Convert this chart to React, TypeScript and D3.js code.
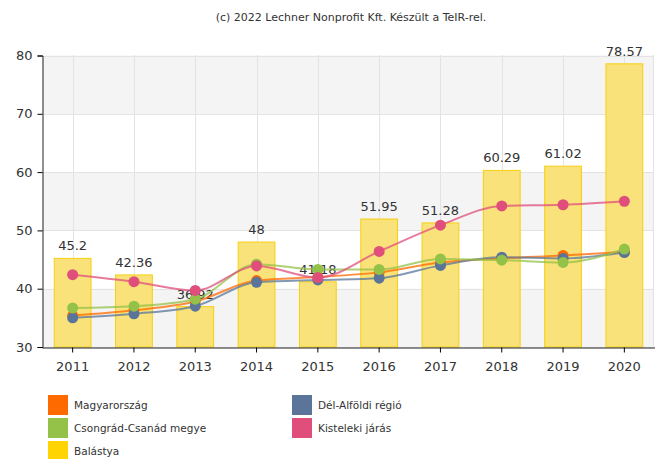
import React, { useEffect, useRef } from 'react';
import * as d3 from 'd3';

// évek
const years = ['2011', '2012', '2013', '2014', '2015', '2016', '2017', '2018', '2019', '2020'];

// Balástya (oszlopok)
const balastya = [45.2, 42.36, 36.92, 48, 41.18, 51.95, 51.28, 60.29, 61.02, 78.57];

// vonalak
const magyarorszag = [35.4, 36.3, 37.8, 41.4, 42.0, 42.8, 44.5, 45.2, 45.7, 46.3];
const delAlfoldi = [35.0, 35.7, 37.0, 41.1, 41.5, 41.8, 44.0, 45.4, 45.2, 46.2];
const csongrad = [36.7, 37.0, 38.2, 44.2, 43.3, 43.3, 45.1, 44.9, 44.5, 46.8];
const kisteleki = [42.4, 41.2, 39.7, 43.9, 41.9, 46.4, 50.9, 54.2, 54.4, 55.0];

const yTicks = [30, 40, 50, 60, 70, 80];

const lineSeries = [
  { name: 'Magyarország', values: magyarorszag, color: '#ff6a00' },
  { name: 'Dél-Alföldi régió', values: delAlfoldi, color: '#5a7599' },
  { name: 'Csongrád-Csanád megye', values: csongrad, color: '#94c248' },
  { name: 'Kisteleki járás', values: kisteleki, color: '#e04f7b' },
];

const legendItems = [
  { name: 'Magyarország', color: '#ff6a00', col: 0, row: 0 },
  { name: 'Dél-Alföldi régió', color: '#5a7599', col: 1, row: 0 },
  { name: 'Csongrád-Csanád megye', color: '#94c248', col: 0, row: 1 },
  { name: 'Kisteleki járás', color: '#e04f7b', col: 1, row: 1 },
  { name: 'Balástya', color: '#ffd400', col: 0, row: 2 },
];

const W = 655;
const H = 459;

export default function App() {
  const svgRef = useRef<SVGSVGElement>(null);

  useEffect(() => {
    const svg = d3.select(svgRef.current);
    svg.selectAll('*').remove();
    const font = '"DejaVu Sans", Verdana, sans-serif';

    const x = d3.scaleBand().domain(years).range([42, 655]).paddingInner(0.4).paddingOuter(0.2);
    const xc = (d: string) => (x(d) as number) + x.bandwidth() / 2;
    const y = d3.scaleLinear().domain([30, 80]).range([347, 55.5]);

    // háttér sávok
    const bands = [[70, 80], [50, 60], [30, 40]];
    svg.append('g').selectAll('rect').data(bands).join('rect')
      .attr('x', 42).attr('width', 611)
      .attr('y', d => y(d[1])).attr('height', d => y(d[0]) - y(d[1]))
      .attr('fill', '#f4f4f4');

    // rács
    const grid = svg.append('g').attr('stroke', '#e3e3e3').attr('stroke-width', 1);
    grid.selectAll('.h').data(yTicks).join('line')
      .attr('x1', 42).attr('x2', 653)
      .attr('y1', d => Math.round(y(d)) + 0.5).attr('y2', d => Math.round(y(d)) + 0.5);
    grid.selectAll('.v').data(years).join('line')
      .attr('x1', d => Math.round(xc(d)) + 0.5).attr('x2', d => Math.round(xc(d)) + 0.5)
      .attr('y1', 55).attr('y2', 347);
    grid.append('line').attr('x1', 653.5).attr('x2', 653.5).attr('y1', 55).attr('y2', 347);

    // oszlopok
    svg.append('g').selectAll('rect').data(balastya).join('rect')
      .attr('x', (d, i) => x(years[i]) as number)
      .attr('width', x.bandwidth())
      .attr('y', d => y(d))
      .attr('height', d => y(30) - y(d))
      .attr('fill', '#fae27a')
      .attr('stroke', '#f7cf10')
      .attr('stroke-width', 1);

    // oszlop feliratok
    svg.append('g').selectAll('text').data(balastya).join('text')
      .attr('x', (d, i) => xc(years[i]))
      .attr('y', d => y(d) - 8)
      .attr('text-anchor', 'middle')
      .attr('font-family', font)
      .attr('font-size', 13)
      .attr('fill', '#333')
      .text(d => String(d));

    // vonalak
    const line = d3.line<number>()
      .x((d, i) => xc(years[i]))
      .y(d => y(d))
      .curve(d3.curveMonotoneX);

    lineSeries.forEach(s => {
      const g = svg.append('g');
      g.append('path')
        .datum(s.values)
        .attr('d', line)
        .attr('fill', 'none')
        .attr('stroke', s.color)
        .attr('stroke-opacity', 0.75)
        .attr('stroke-width', 2);
      g.selectAll('circle').data(s.values).join('circle')
        .attr('cx', (d, i) => xc(years[i]))
        .attr('cy', d => y(d))
        .attr('r', 5.5)
        .attr('fill', s.color);
    });

    // y tengely
    const yAxis = svg.append('g').attr('transform', 'translate(42.5,0)')
      .call(d3.axisLeft(y).tickValues(yTicks).tickSize(5).tickPadding(5));
    yAxis.selectAll('text').attr('font-family', font).attr('font-size', 13).attr('fill', '#333');
    yAxis.select('.domain').attr('stroke', '#222');

    // x tengely
    const xAxis = svg.append('g').attr('transform', 'translate(0,347.5)')
      .call(d3.axisBottom(x).tickSize(5).tickPadding(9).tickSizeOuter(0));
    xAxis.selectAll('text').attr('font-family', font).attr('font-size', 13).attr('fill', '#333');
    xAxis.select('.domain').attr('stroke', '#222');

    // cím
    svg.append('text')
      .attr('x', 351).attr('y', 21)
      .attr('text-anchor', 'middle')
      .attr('font-family', font)
      .attr('font-size', 11)
      .attr('fill', '#333')
      .text('(c) 2022 Lechner Nonprofit Kft. Készült a TeIR-rel.');

    // jelmagyarázat
    const lg = svg.append('g').selectAll('g').data(legendItems).join('g')
      .attr('transform', d => `translate(${d.col === 0 ? 48 : 292},${395 + d.row * 23})`);
    lg.append('rect').attr('width', 20).attr('height', 20).attr('fill', d => d.color);
    lg.append('text')
      .attr('x', 26).attr('y', 14)
      .attr('font-family', font)
      .attr('font-size', 10.5)
      .attr('fill', '#333')
      .text(d => d.name);
  }, []);

  return (
    <svg
      ref={svgRef}
      width={W}
      height={H}
      style={{ position: 'absolute', left: 0, top: 0, background: '#fff' }}
    />
  );
}
